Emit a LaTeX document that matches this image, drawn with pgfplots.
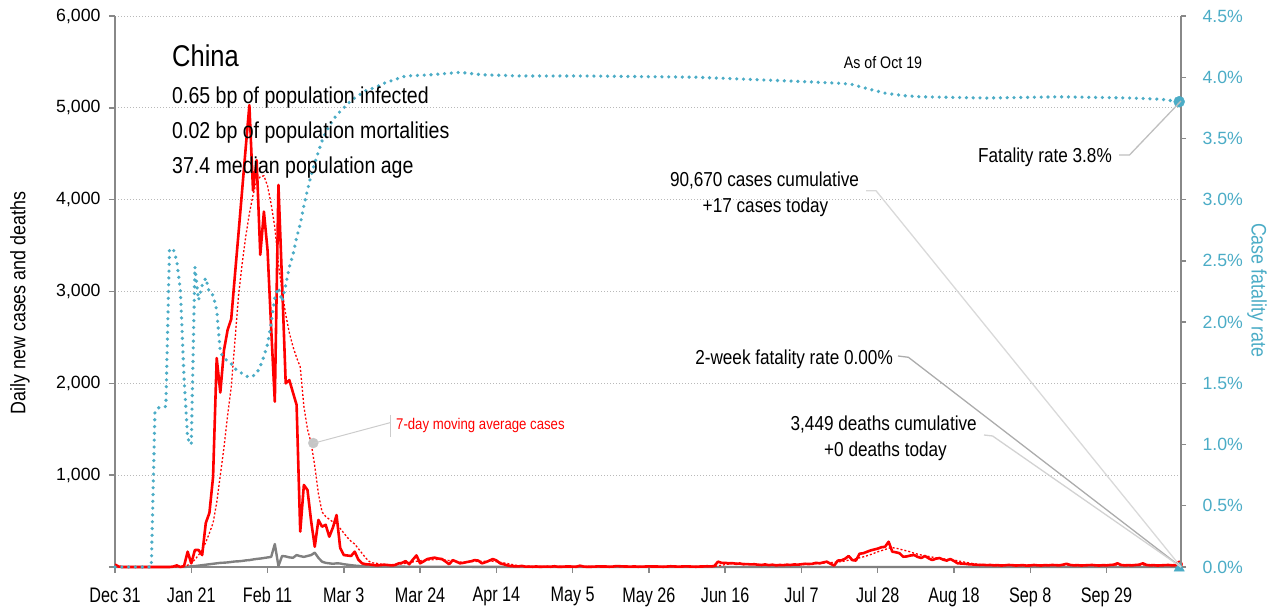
\documentclass[border=0pt]{standalone}
\usepackage{fontspec}
\setmainfont{Liberation Sans}
\newfontfamily\cond{Liberation Sans}[FakeStretch=0.85]
\newfontfamily\condB{Liberation Sans}[FakeStretch=0.77]
\usepackage{pgfplots}
\usepackage{pgfplotstable}
\pgfplotsset{compat=1.18}
\definecolor{cfr}{RGB}{75,172,198}
\definecolor{axgray}{RGB}{136,136,136}
\definecolor{dgray}{RGB}{128,128,128}
\newcommand\fs[1]{\fontsize{#1}{#1}\selectfont}

\pgfplotstableread{
d v
0 27
1 5
2 0
3 0
4 0
5 0
6 0
7 0
8 0
9 0
10 0
11 0
12 0
13 0
14 0
15 0
16 4
17 17
18 0
19 10
20 167
21 40
22 185
23 185
24 130
25 480
26 590
27 980
28 2275
29 1900
30 2360
31 2580
32 2700
33 3170
34 3630
35 4100
36 4570
37 5030
38 4100
39 4430
40 3400
41 3870
42 3450
43 2600
44 1800
45 4160
46 3100
47 2000
48 2035
49 1900
50 1765
51 385
52 893
53 838
54 500
55 221
56 512
57 439
58 460
59 330
60 430
61 566
62 207
63 130
64 125
65 120
66 167
67 80
68 40
69 30
70 28
71 22
72 18
73 20
74 25
75 22
76 18
77 20
78 38
79 45
80 64
81 30
82 80
83 126
84 40
85 62
86 87
87 95
88 102
89 92
90 87
91 60
92 30
93 75
94 58
95 40
96 46
97 55
98 62
99 75
100 70
101 40
102 52
103 68
104 87
105 72
106 40
107 30
108 18
109 10
110 8
111 6
112 12
113 4
114 5
115 3
116 6
117 2
118 4
119 5
120 3
121 8
122 2
123 3
124 5
125 6
126 4
127 3
128 14
129 5
130 2
131 3
132 4
133 7
134 5
135 6
136 3
137 4
138 10
139 8
140 6
141 5
142 4
143 6
144 3
145 4
146 5
147 7
148 5
149 6
150 4
151 3
152 5
153 8
154 6
155 4
156 5
157 7
158 6
159 4
160 3
161 5
162 6
163 8
164 6
165 10
166 58
167 45
168 45
169 40
170 42
171 35
172 38
173 30
174 32
175 28
176 30
177 25
178 22
179 28
180 20
181 25
182 18
183 22
184 20
185 25
186 22
187 28
188 25
189 30
190 35
191 32
192 35
193 45
194 40
195 50
196 58
197 35
198 15
199 70
200 72
201 90
202 120
203 75
204 70
205 145
206 150
207 165
208 180
209 190
210 200
211 215
212 220
213 275
214 167
215 160
216 150
217 112
218 115
219 125
220 130
221 110
222 98
223 120
224 95
225 76
226 90
227 98
228 80
229 70
230 87
231 65
232 40
233 38
234 35
235 30
236 28
237 25
238 22
239 24
240 20
241 22
242 18
243 20
244 16
245 18
246 22
247 20
248 16
249 18
250 20
251 15
252 17
253 22
254 18
255 16
256 20
257 18
258 22
259 20
260 18
261 25
262 35
263 22
264 18
265 20
266 16
267 18
268 20
269 22
270 18
271 16
272 20
273 18
274 22
275 25
276 40
277 22
278 18
279 20
280 18
281 22
282 25
283 40
284 22
285 18
286 20
287 16
288 18
289 20
290 22
291 18
292 20
293 17
}\cases

\pgfplotstableread{
d v
0 0
19 0
20 3
21 8
22 10
23 15
24 20
25 25
26 30
27 35
28 40
29 45
30 47
31 50
32 55
33 60
34 62
35 66
36 72
37 75
38 82
39 88
40 92
41 98
42 104
43 110
44 250
45 10
46 120
47 115
48 105
49 100
50 130
51 118
52 110
53 120
54 130
55 156
56 100
57 58
58 45
59 40
60 35
61 40
62 38
63 30
64 25
65 20
66 15
67 12
68 10
69 10
70 8
71 7
72 8
73 6
74 5
75 7
76 5
77 6
78 4
79 5
80 3
90 3
100 2
110 2
111 0
293 0
}\deaths

\pgfplotstableread{
d v
0 0
18 0
19 5
20 20
21 40
22 80
23 130
24 185
25 270
26 370
27 480
28 700
29 1000
30 1300
31 1650
32 1960
33 2450
34 2950
35 3300
36 3600
37 3850
38 4050
39 4200
40 4250
41 4260
42 4150
43 3950
44 3700
45 3300
46 3000
47 2750
48 2550
49 2400
50 2280
51 2180
52 1750
53 1500
54 1350
55 1100
56 800
57 600
58 550
59 520
60 490
61 470
62 420
63 370
64 320
65 280
66 250
67 200
68 150
69 100
70 60
71 45
72 40
73 32
74 28
75 25
76 24
77 26
78 30
79 35
80 40
81 48
82 55
83 62
84 68
85 72
86 75
87 78
88 80
89 82
90 80
91 75
92 70
93 65
94 60
95 55
96 55
97 55
98 58
99 60
100 62
101 62
102 63
103 65
104 62
105 58
106 52
107 45
108 38
109 30
110 22
111 15
112 10
113 8
114 6
120 5
130 5
140 6
150 5
160 5
165 6
166 13
167 19
168 26
169 32
170 38
171 40
172 40
173 38
174 35
175 32
176 30
177 28
178 26
179 25
180 24
182 22
185 22
187 24
189 27
191 31
193 35
195 42
197 48
199 55
200 60
201 65
202 75
203 82
204 90
205 100
206 110
207 122
208 135
209 150
210 165
211 178
212 190
213 205
214 210
215 205
216 195
217 185
218 175
219 165
220 150
221 140
222 130
223 122
224 115
225 108
226 100
227 95
228 90
229 85
230 80
231 75
232 68
233 60
234 52
235 45
236 38
237 32
238 28
239 25
240 23
250 21
260 21
270 21
280 22
293 21
}\mavg

\pgfplotstableread{
d v
0 0
10 0
11 1.27
12 1.30
13 1.31
14 1.31
15 2.59
16 2.60
17 2.50
18 2.26
19 1.55
20 1.05
21 1.00
22 2.45
23 2.18
24 2.30
25 2.36
26 2.24
27 2.22
28 2.10
29 1.75
30 1.71
31 1.68
32 1.66
33 1.62
34 1.60
35 1.58
36 1.56
37 1.55
38 1.56
39 1.58
40 1.64
41 1.72
42 1.82
43 1.99
44 2.20
45 2.28
46 2.17
47 2.30
48 2.45
49 2.55
50 2.69
51 2.80
52 2.95
53 3.08
54 3.20
55 3.30
56 3.39
57 3.48
58 3.55
59 3.60
60 3.65
61 3.69
62 3.72
63 3.75
64 3.78
65 3.81
66 3.83
67 3.85
68 3.87
69 3.89
70 3.90
72 3.92
74 3.95
77 3.98
80 4.01
87 4.02
95 4.04
101 4.02
112 4.01
130 4.01
160 4.00
185 3.97
200 3.95
203 3.94
208 3.90
212 3.87
217 3.85
222 3.84
240 3.83
260 3.84
280 3.83
288 3.82
293 3.80
}\cfrdata

\begin{document}
\begin{tikzpicture}[x=1pt,y=1pt]
\useasboundingbox (-115,-43) rectangle (1159,567);
\begin{axis}[
  scale only axis, width=1066pt, height=551pt,
  xmin=0, xmax=293.5, ymin=0, ymax=6000,
  axis x line*=bottom, axis y line*=left,
  axis line style={axgray, line width=1.6pt},
  xtick={0,21,...,273},
  xticklabels={Dec 31,Jan 21,Feb 11,Mar 3,Mar 24,Apr 14,May 5,May 26,Jun 16,Jul 7,Jul 28,Aug 18,Sep 8,Sep 29},
  x tick label style={font=\condB\fs{21}, black, yshift=-11pt},
  ytick={0,1000,...,6000},
  yticklabels={,{1,000},{2,000},{3,000},{4,000},{5,000},{6,000}},
  y tick label style={font=\fs{17.7}, black, xshift=-5pt},
  tick align=outside, major tick length=6pt,
  tick style={axgray, line width=1.4pt},
  ymajorgrids, grid style={gray!55, line width=1pt, dash pattern=on 1pt off 2pt},
  clip=false,
]
\addplot[dgray, line width=2.4pt, line join=round] table[x=d,y=v]{\deaths};
\addplot[red, line width=1.3pt, dash pattern=on 2pt off 2pt] table[x=d,y=v]{\mavg};
\addplot[red, line width=2.6pt, line join=round] table[x=d,y=v]{\cases};
\addplot[only marks, mark=*, mark size=5pt, mark options={fill=gray!45, draw=gray!45}] coordinates {(54.6,1350)};
\addplot[only marks, mark=*, mark size=3.5pt, mark options={fill=red, draw=red}] coordinates {(293,30)};
\end{axis}
\begin{axis}[
  scale only axis, width=1066pt, height=551pt,
  xmin=0, xmax=293.5, ymin=0, ymax=4.5,
  hide x axis, axis y line*=right,
  axis line style={axgray, line width=1.6pt},
  ytick={0,0.5,...,4.5},
  yticklabels={0.0\%,0.5\%,1.0\%,1.5\%,2.0\%,2.5\%,3.0\%,3.5\%,4.0\%,4.5\%},
  y tick label style={font=\fs{17.7}, cfr, xshift=13pt},
  tick align=outside, major tick length=5pt,
  tick style={axgray, line width=1.4pt},
  clip=false,
]
\addplot[cfr, line width=3.6pt, line cap=round, dash pattern=on 0pt off 6.8pt] table[x=d,y=v]{\cfrdata};
\addplot[only marks, mark=*, mark size=5.5pt, mark options={fill=cfr, draw=cfr}] coordinates {(293,3.80)};
\addplot[only marks, mark=triangle*, mark size=6pt, mark options={fill=cfr, draw=cfr}] coordinates {(293,-0.01)};
\end{axis}
% titles
\node[anchor=base west, font=\cond\fs{30}, inner sep=0] at (57,500.3) {China};
\node[anchor=base west, font=\cond\fs{23}, inner sep=0] at (57,463.7) {0.65 bp of population infected};
\node[anchor=base west, font=\cond\fs{23}, inner sep=0] at (57,428.7) {0.02 bp of population mortalities};
\node[anchor=base west, font=\cond\fs{23}, inner sep=0] at (57,393.7) {37.4 median population age};
\node[anchor=base, font=\cond\fs{16.7}, inner sep=0] at (768,498.7) {As of Oct 19};
% axis labels
\node[rotate=90, font=\cond\fs{21}] at (-95,264) {Daily new cases and deaths};
\node[rotate=-90, font=\cond\fs{21}, text=cfr] at (1142,277) {Case fatality rate};
% annotations
\node[anchor=base east, font=\cond\fs{20.2}, inner sep=0] at (997,404.3) {Fatality rate 3.8\%};
\draw[gray!50, line width=1.3pt] (1004,412) -- (1014.5,412) -- (1066,466);
\node[anchor=base, font=\cond\fs{20.2}, inner sep=0] at (649.5,380.3) {90,670 cases cumulative};
\node[anchor=base, font=\cond\fs{20.2}, inner sep=0] at (650.5,354.3) {+17 cases today};
\draw[gray!30, line width=1.3pt] (751,376.3) -- (761,376.3) -- (1066,0);
\node[anchor=base east, font=\cond\fs{20.2}, inner sep=0] at (778,202) {2-week fatality rate 0.00\%};
\draw[gray!65, line width=1.3pt] (783,211) -- (793.4,209.7) -- (1066,0);
\node[anchor=base, font=\cond\fs{20.2}, inner sep=0] at (768.7,136.3) {3,449 deaths cumulative};
\node[anchor=base, font=\cond\fs{20.2}, inner sep=0] at (770.5,110.3) {+0 deaths today};
\draw[gray!35, line width=1.3pt] (869,132) -- (877.6,131) -- (1066,0);
\node[anchor=base west, font=\cond\fs{15.5}, text=red, inner sep=0] at (281,137) {7-day moving average cases};
\draw[gray!40, line width=1pt] (275,152) -- (275,130);
\draw[gray!40, line width=1pt] (275,144.3) -- (198.3,123.7);
\end{tikzpicture}
\end{document}
